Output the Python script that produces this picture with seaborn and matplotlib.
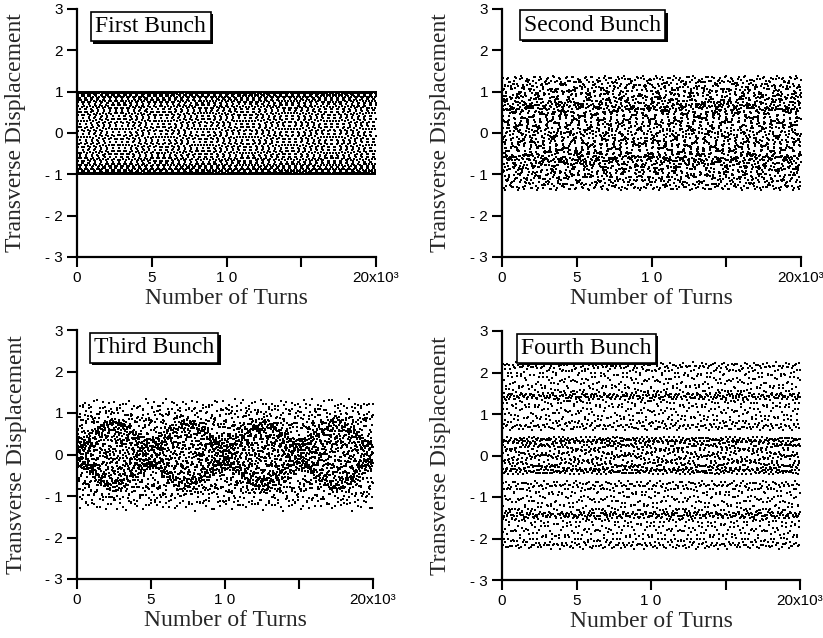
import numpy as np
import pandas as pd
import matplotlib
matplotlib.use("Agg")
import matplotlib.pyplot as plt
import matplotlib.patheffects as pe
import seaborn as sns

sns.set_theme(style="white")
plt.rcParams["font.family"] = ["Liberation Sans", "DejaVu Sans"]

# Panel titles
bunch_labels = ["First Bunch", "Second Bunch", "Third Bunch", "Fourth Bunch"]

# Turn record: one stored sample every few turns
max_turns = 20000
turn_step = 5

# Oscillation content of each bunch: mode amplitudes, fractional phase
# advance of each mode between stored samples, and initial phases (rad)
first_amp = [1.00]
first_tune = [0.06328]
first_phase = [0.0]

second_amp = [1.00, 0.38]
second_tune = [0.2371, 0.06328]
second_phase = [0.0, 0.0]

third_amp = [0.775, 0.225, -0.0625, -0.0625, 0.0625, 0.0625, 0.14, 0.14, 0.09]
third_tune = [0.2371, 0.7371, 0.2381, 0.2361, 0.7381, 0.7361, 0.06328, 0.56328, 0.3819]
third_phase = [0.0, 0.0, 0.0, 0.0, 0.0, 0.0, 0.0, 0.0, 0.0]

fourth_amp = [0.40, 1.65, 0.43, 0.05]
fourth_tune = [0.06328, 0.3333333, 0.1666667, 0.2371]
fourth_phase = [0.0, -1.5708, 1.5708, 0.0]

# Axis ticks
x_ticks = [0, 5000, 10000, 15000, 20000]
x_tick_labels = ["0", "5", "1 0", "", "20x10\u00b3"]
y_ticks = [-3, -2, -1, 0, 1, 2, 3]
y_tick_labels = ["- 3", "- 2", "- 1", "0", "1", "2", "3"]

modes = [(first_amp, first_tune, first_phase),
         (second_amp, second_tune, second_phase),
         (third_amp, third_tune, third_phase),
         (fourth_amp, fourth_tune, fourth_phase)]

turns = np.arange(0, max_turns + 1, turn_step)
sample = np.arange(turns.size)

frames = []
for label, (amps, tunes, phases) in zip(bunch_labels, modes):
    x = np.zeros(turns.size)
    for a, q, p in zip(amps, tunes, phases):
        x += a * np.cos(2 * np.pi * q * sample + p)
    frames.append(pd.DataFrame({"turn": turns, "displacement": x, "bunch": label}))
data = pd.concat(frames, ignore_index=True)

W, H = 823, 638
fig = plt.figure(figsize=(W / 100, H / 100), dpi=100)

# axes boxes in pixels: left, top, right, bottom
boxes = [(77, 9, 376, 257), (502, 9, 801, 257),
         (77, 330, 373, 579), (502, 331, 800, 580)]
title_pos = [(0.247, 0.929), (0.303, 0.935), (0.26, 0.928), (0.282, 0.93)]

serif = ["Liberation Serif", "DejaVu Serif"]

for label, (l, t, r, b), (tx, ty) in zip(bunch_labels, boxes, title_pos):
    ax = fig.add_axes([l / W, 1 - b / H, (r - l) / W, (b - t) / H])
    sns.scatterplot(data=data[data["bunch"] == label], x="turn", y="displacement",
                    ax=ax, s=1.4, color="black", linewidth=0, marker="s",
                    legend=False)
    ax.set_xlim(0, max_turns)
    ax.set_ylim(-3, 3)
    for side in ["top", "right"]:
        ax.spines[side].set_visible(False)
    for side in ["left", "bottom"]:
        ax.spines[side].set_linewidth(1.6)
        ax.spines[side].set_color("black")
    ax.set_xticks(x_ticks)
    ax.set_xticklabels(x_tick_labels)
    ax.set_yticks(y_ticks)
    ax.set_yticklabels(y_tick_labels)
    ax.tick_params(axis="both", direction="out", length=7, width=1.5,
                   colors="black", labelsize=11, pad=3, left=True, bottom=True)
    ax.set_xlabel("Number of Turns", fontsize=17, family=serif)
    ax.set_ylabel("Transverse Displacement", fontsize=17, family=serif)
    ax.xaxis.set_label_coords(0.5, -0.125)
    ax.yaxis.set_label_coords(-0.17, 0.5)
    txt = ax.text(tx, ty, label, transform=ax.transAxes, ha="center", va="center",
                  fontsize=17, family=serif, color="black", zorder=5,
                  bbox=dict(boxstyle="square,pad=0.18", facecolor="white",
                            edgecolor="black", linewidth=1.2))
    txt.get_bbox_patch().set_path_effects(
        [pe.SimplePatchShadow(offset=(1.6, -1.6), shadow_rgbFace="black", alpha=1.0),
         pe.Normal()])

fig.savefig("out.png", dpi=100, facecolor="white")
